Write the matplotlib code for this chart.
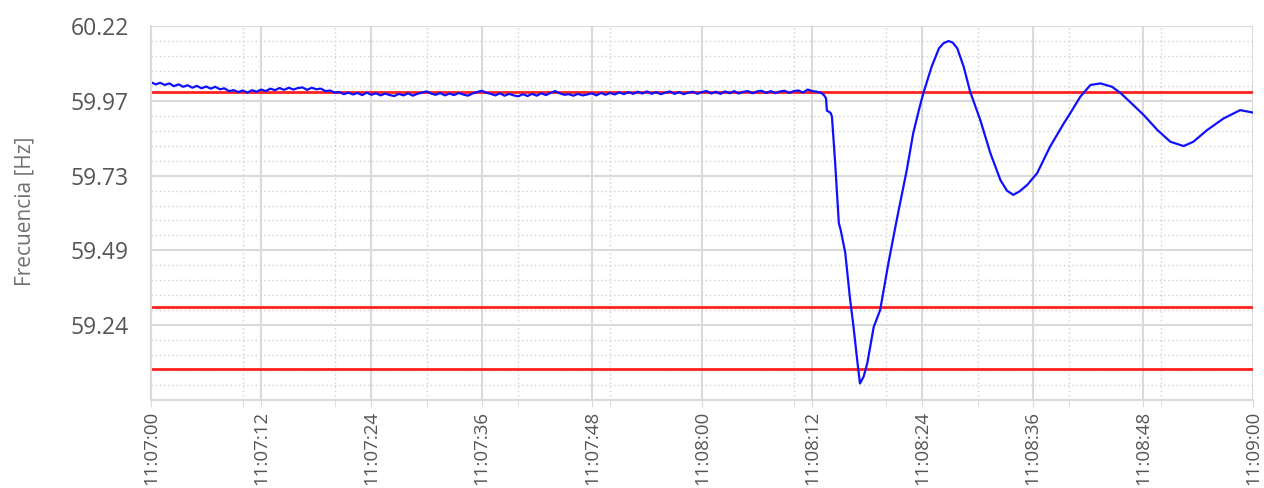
import numpy as np
import matplotlib.pyplot as plt
from matplotlib.ticker import MultipleLocator, FixedLocator

# Datos (segundos desde 11:07:00, frecuencia en Hz)
t_plano = np.arange(0, 73, 0.5)
f_plano = [
    60.033, 60.026, 60.031, 60.024, 60.029, 60.020, 60.026, 60.018, 60.023, 60.015,
    60.021, 60.013, 60.019, 60.012, 60.018, 60.010, 60.013, 60.004, 60.007, 60.001,
    60.006, 59.999, 60.007, 60.002, 60.009, 60.004, 60.012, 60.007, 60.014, 60.008,
    60.015, 60.009, 60.014, 60.016, 60.008, 60.015, 60.010, 60.012, 60.004, 60.006,
    59.999, 60.001, 59.994, 59.999, 59.993, 59.998, 59.991, 59.999, 59.992, 59.997,
    59.990, 59.996, 59.991, 59.988, 59.995, 59.990, 59.997, 59.989, 59.995, 59.999,
    60.003, 59.996, 59.992, 59.998, 59.990, 59.996, 59.991, 59.998, 59.993, 59.989,
    59.996, 60.001, 60.005, 59.999, 59.995, 59.990, 59.997, 59.989, 59.995, 59.990,
    59.987, 59.994, 59.988, 59.995, 59.989, 59.997, 59.991, 59.998, 60.004, 59.997,
    59.992, 59.994, 59.989, 59.995, 59.990, 59.993, 59.997, 59.990, 59.998, 59.992,
    59.998, 59.993, 60.000, 59.994, 60.001, 59.995, 60.002, 59.996, 60.003, 59.995,
    60.001, 59.994, 59.999, 60.003, 59.995, 60.001, 59.994, 59.999, 60.002, 59.995,
    60.001, 60.004, 59.996, 60.002, 59.995, 60.003, 59.997, 60.004, 59.996, 60.002,
    60.004, 59.997, 60.003, 60.005, 59.998, 60.004, 59.997, 60.003, 60.005, 59.998,
    60.004, 60.006, 59.999, 60.009, 60.004, 60.002,
]

t_evento = [
    73.0, 73.3, 73.5, 73.6, 73.8, 74.0, 74.15, 74.5, 74.9, 75.1, 75.6, 76.1, 76.5,
    76.9, 77.2, 77.6, 78.0, 78.7, 79.4, 80.3, 81.2, 82.3, 83.0, 83.7, 84.1, 85.0,
    85.8, 86.3, 86.85, 87.3, 87.8, 88.5, 89.2, 90.3, 91.4, 92.5, 93.2, 93.9, 94.6,
    95.4, 96.5, 97.9, 99.4, 100.1, 101.2, 102.3, 103.4, 104.65, 105.6, 106.6,
    108.1, 109.6, 111.0, 112.45, 113.5, 115.0, 116.8, 118.6, 119.3, 120.0,
]
f_evento = [
    59.998, 59.990, 59.981, 59.940, 59.937, 59.933, 59.921, 59.770, 59.574, 59.552,
    59.477, 59.333, 59.236, 59.128, 59.052, 59.074, 59.118, 59.236, 59.291, 59.444,
    59.584, 59.747, 59.867, 59.952, 59.997, 60.083, 60.143, 60.160, 60.167, 60.162,
    60.143, 60.083, 60.002, 59.910, 59.802, 59.714, 59.680, 59.666, 59.678, 59.698,
    59.737, 59.823, 59.899, 59.932, 59.986, 60.024, 60.029, 60.018, 59.997, 59.969,
    59.926, 59.877, 59.839, 59.825, 59.839, 59.877, 59.915, 59.942, 59.938, 59.934,
]

limites = [60.0, 59.3, 59.1]

etiquetas_x = ['11:07:00', '11:07:12', '11:07:24', '11:07:36', '11:07:48', '11:08:00',
               '11:08:12', '11:08:24', '11:08:36', '11:08:48', '11:09:00']
etiquetas_y = ['60.22', '59.97', '59.73', '59.49', '59.24']
y_min, y_max = 58.998, 60.216

t = np.concatenate([t_plano, t_evento])
f = np.concatenate([f_plano, f_evento])

plt.rcParams['font.family'] = ['Open Sans', 'DejaVu Sans']
fig = plt.figure(figsize=(12.64, 4.88), dpi=100)
ax = fig.add_axes([151 / 1264, 1 - 400 / 488, 1102 / 1264, 374 / 488])

gris = '#dadada'
ax.set_xlim(0, 120)
ax.set_ylim(y_min, y_max)

paso = (y_max - y_min) / 5
ax.yaxis.set_major_locator(FixedLocator([y_max - i * paso for i in range(5)]))
ax.set_yticklabels(etiquetas_y)
ax.yaxis.set_minor_locator(FixedLocator([y_min + i * paso / 5 for i in range(26) if i % 5]))
ax.xaxis.set_major_locator(FixedLocator(np.arange(0, 121, 12)))
ax.set_xticklabels(etiquetas_x, rotation=90)
ax.xaxis.set_minor_locator(MultipleLocator(10))

ax.grid(which='major', color=gris, linewidth=1.5, linestyle='-')
ax.grid(which='minor', color='#d0d0d0', linewidth=1, linestyle=(0, (1, 2)))
ax.set_axisbelow(True)

for lado in ['top', 'right']:
    ax.spines[lado].set_visible(False)
for lado in ['left', 'bottom']:
    ax.spines[lado].set_color(gris)
    ax.spines[lado].set_linewidth(1.5)

ax.tick_params(axis='x', which='both', length=5, color=gris, labelsize=13.5,
               labelcolor='#555555', pad=3)
ax.tick_params(axis='y', which='both', length=0, labelsize=16.5,
               labelcolor='#555555', pad=16)

for y in limites:
    ax.axhline(y, color='#ff2020', linewidth=2)

ax.plot(t, f, color='#1010ff', linewidth=1.6)

ax.set_ylabel('Frecuencia [Hz]', fontsize=15, color='#707070')
ax.yaxis.set_label_coords(-0.105, 0.505)

fig.savefig('out.png', dpi=100)
